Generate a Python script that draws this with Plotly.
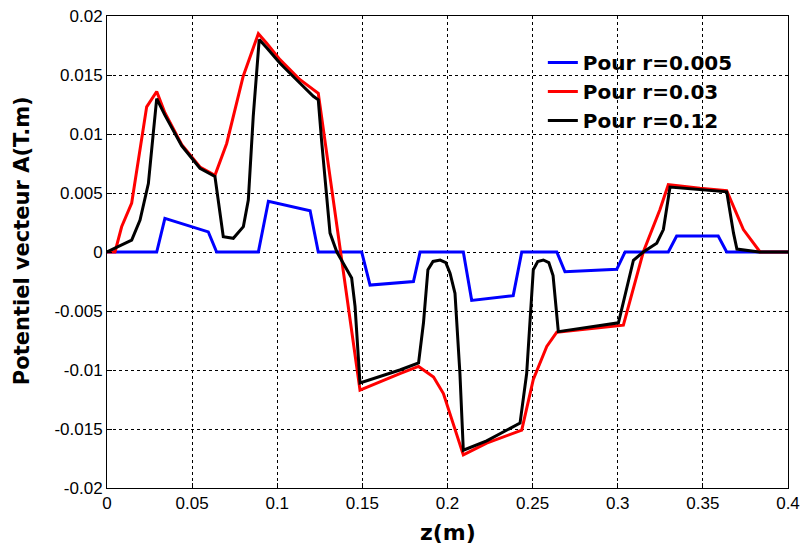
import plotly.graph_objects as go

# r = 0.005 (blue)
z_blue = [0, 0.0292, 0.034, 0.0595, 0.0644, 0.0889, 0.0948, 0.1193, 0.1241, 0.1496,
          0.1545, 0.180, 0.1839, 0.2093, 0.2142, 0.2386, 0.2436, 0.2642, 0.269, 0.2994,
          0.3043, 0.3297, 0.3346, 0.359, 0.364, 0.4]
a_blue = [0, 0, 0.00285, 0.0017, 0, 0, 0.0043, 0.0035, 0, 0,
          -0.0028, -0.0025, 0, 0, -0.0041, -0.0037, 0, 0, -0.00167, -0.00147,
          0, 0, 0.00136, 0.00136, 0, 0]

# r = 0.03 (red)
z_red = [0, 0.0047, 0.0086, 0.0145, 0.0233, 0.0292, 0.034, 0.0439, 0.0546, 0.0634,
         0.0703, 0.080, 0.0889, 0.0938, 0.1016, 0.1134, 0.1241, 0.1486, 0.172, 0.183,
         0.1918, 0.1976, 0.2093, 0.2230, 0.2436, 0.2504, 0.2583, 0.2642, 0.3033, 0.315,
         0.3248, 0.3297, 0.3483, 0.364, 0.3738, 0.3836, 0.4]
a_red = [0, 0, 0.00214, 0.00415, 0.0123, 0.0136, 0.0118, 0.0091, 0.0072, 0.0065,
         0.0092, 0.0149, 0.0185, 0.0177, 0.0163, 0.0146, 0.01345, -0.0117, -0.0103, -0.0097,
         -0.0106, -0.0120, -0.0172, -0.0162, -0.0151, -0.0108, -0.0080, -0.0068, -0.0062, 0,
         0.0036, 0.0057, 0.0054, 0.0052, 0.0019, 0, 0]

# r = 0.12 (black)
z_black = [0, 0.0067, 0.0145, 0.0194, 0.0243, 0.0272, 0.0292, 0.034, 0.0439, 0.0546,
           0.0634, 0.0683, 0.0742, 0.0801, 0.083, 0.0859, 0.0894, 0.0938, 0.1016, 0.1134,
           0.1212, 0.1241, 0.126, 0.131, 0.135, 0.1437, 0.1457, 0.1486, 0.172, 0.183,
           0.1859, 0.1885, 0.1915, 0.1957, 0.1990, 0.2015, 0.2044, 0.2073, 0.2093, 0.2230,
           0.2426, 0.2465, 0.2504, 0.2530, 0.2563, 0.2595, 0.2620, 0.2651, 0.3004, 0.3092,
           0.3131, 0.315, 0.3229, 0.3268, 0.3307, 0.3483, 0.364, 0.368, 0.370, 0.383, 0.4]
a_black = [0, 0.00045, 0.001, 0.0027, 0.0058, 0.0101, 0.0130, 0.0116, 0.0090, 0.0071,
           0.0064, 0.0013, 0.00116, 0.00215, 0.0044, 0.0115, 0.0180, 0.0173, 0.0160, 0.0143,
           0.0132, 0.0129, 0.0095, 0.0016, 0, -0.0022, -0.0046, -0.0111, -0.0100, -0.0094,
           -0.006, -0.0015, -0.0008, -0.00068, -0.0009, -0.0018, -0.0035, -0.0103, -0.0168, -0.0160,
           -0.0145, -0.0103, -0.0015, -0.0008, -0.00068, -0.0009, -0.0020, -0.00675, -0.0060, -0.0007,
           -0.00025, 0, 0.00074, 0.0019, 0.0055, 0.0053, 0.0051, 0.0016, 0.00025, 0, 0]

x_ticks = [0, 0.05, 0.1, 0.15, 0.2, 0.25, 0.3, 0.35, 0.4]
x_labels = ["0", "0.05", "0.1", "0.15", "0.2", "0.25", "0.3", "0.35", "0.4"]
y_ticks = [-0.02, -0.015, -0.01, -0.005, 0, 0.005, 0.01, 0.015, 0.02]
y_labels = ["-0.02", "-0.015", "-0.01", "-0.005", "0", "0.005", "0.01", "0.015", "0.02"]

fig = go.Figure()
fig.add_trace(go.Scatter(x=z_blue, y=a_blue, mode="lines", name="<b>Pour r=0.005</b>",
                         line=dict(color="#0000ff", width=3)))
fig.add_trace(go.Scatter(x=z_red, y=a_red, mode="lines", name="<b>Pour r=0.03</b>",
                         line=dict(color="#ff0000", width=3)))
fig.add_trace(go.Scatter(x=z_black, y=a_black, mode="lines", name="<b>Pour r=0.12</b>",
                         line=dict(color="#000000", width=3)))

axis_common = dict(
    showline=True, linecolor="black", linewidth=1, mirror=True,
    showgrid=True, gridcolor="black", gridwidth=1, griddash="dot",
    ticks="inside", ticklen=5, tickcolor="black",
    zeroline=False, automargin=False,
    tickfont=dict(family="Liberation Sans, Arial", size=17, color="black"),
)

fig.update_layout(
    width=802, height=549,
    margin=dict(l=107, r=14, t=16, b=61),
    paper_bgcolor="white", plot_bgcolor="white",
    showlegend=True,
    legend=dict(x=0.640, y=0.943, xanchor="left", yanchor="top",
                bgcolor="rgba(0,0,0,0)", borderwidth=0,
                font=dict(family="DejaVu Sans", size=20, color="black"),
                tracegroupgap=0),
    xaxis=dict(range=[0, 0.4], tickvals=x_ticks, ticktext=x_labels, **axis_common),
    yaxis=dict(range=[-0.02, 0.02], tickvals=y_ticks, ticktext=y_labels, **axis_common),
    annotations=[
        dict(text="<b>z(m)</b>", xref="paper", yref="paper", x=0.5, y=0,
             xanchor="center", yanchor="middle", yshift=-44, showarrow=False,
             font=dict(family="DejaVu Sans", size=22, color="black")),
        dict(text="<b>Potentiel vecteur A(T.m)</b>", xref="paper", yref="paper",
             x=0, y=0.523, xanchor="center", yanchor="middle", xshift=-85,
             textangle=-90, showarrow=False,
             font=dict(family="DejaVu Sans", size=21, color="black")),
    ],
)

fig.write_html("out.html")
